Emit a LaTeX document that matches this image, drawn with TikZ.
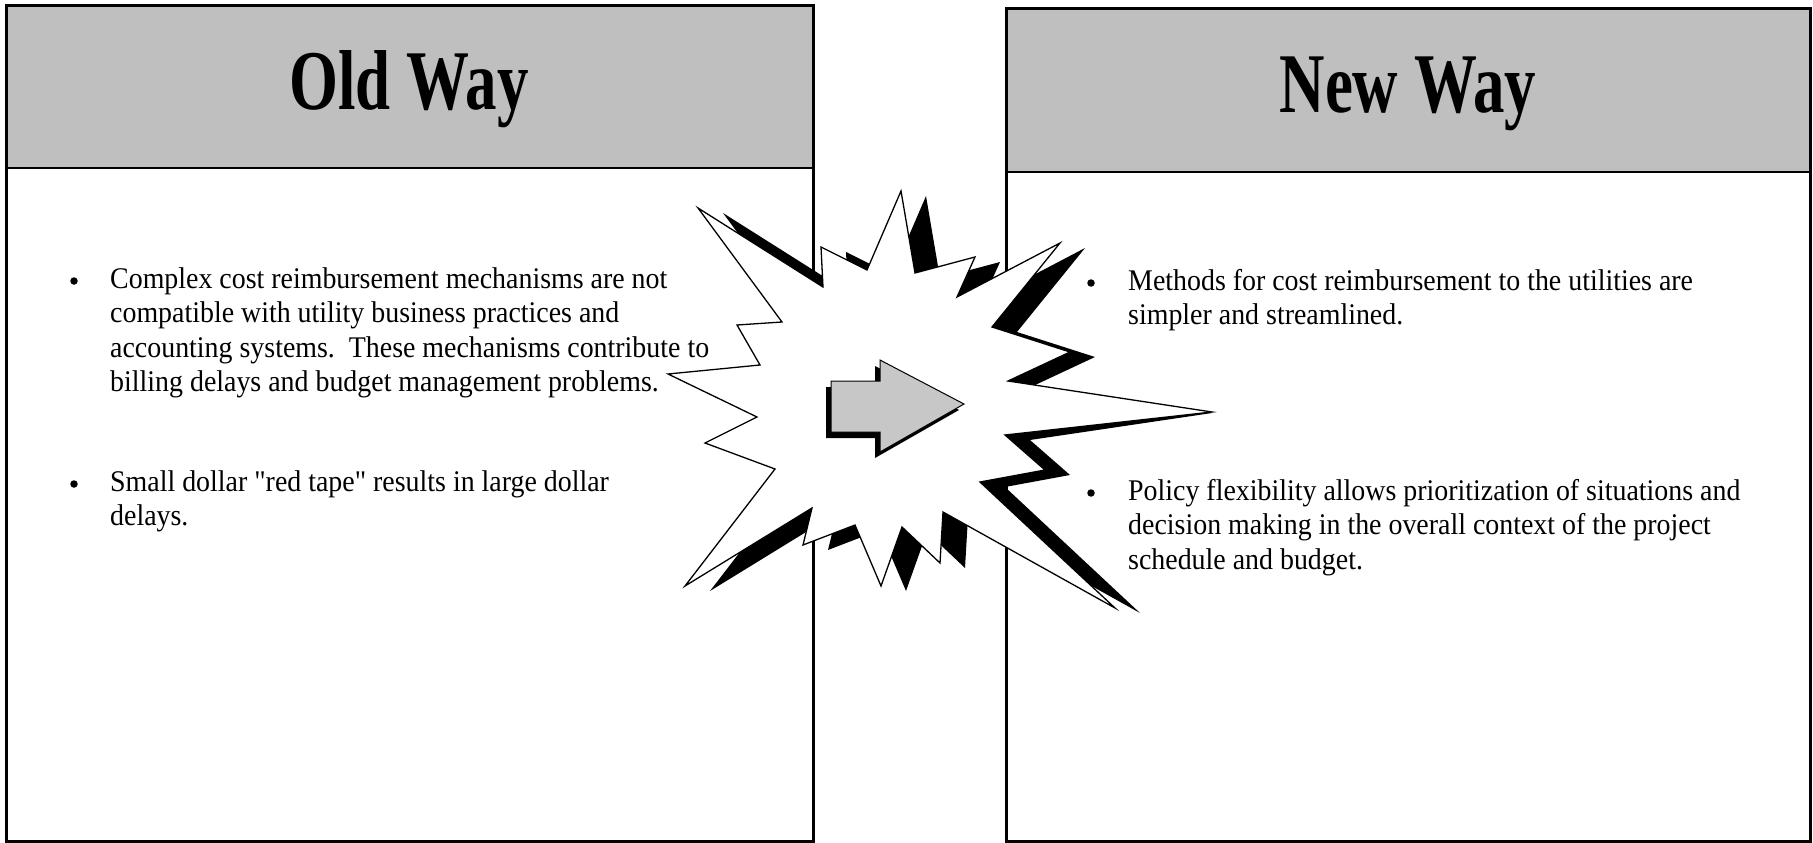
\documentclass[tikz,border=0pt]{standalone}
\usepackage{fontspec}
\setmainfont{Liberation Serif}
\newfontfamily\bodyfont{Liberation Serif}[FakeStretch=0.93]
\newfontfamily\titlefont{Liberation Serif}[FakeStretch=0.74]
\begin{document}
\begin{tikzpicture}[x=1pt,y=-1pt,
  hdr/.style={fill=black!25},
  frame/.style={line width=3pt},
  divider/.style={line width=2pt},
  bodytxt/.style={anchor=base west, inner sep=0pt, font=\bodyfont\fontsize{30}{36}\selectfont},
  bul/.style={circle, fill=black, inner sep=0pt, minimum size=7.5pt},
  title/.style={anchor=base, inner sep=0pt, font=\titlefont\bfseries\fontsize{85}{90}\selectfont},
  burstshadow/.style={fill=black},
  burst/.style={fill=white, draw=black, line width=1.3pt, line join=miter},
  arrowshadow/.style={fill=black},
  arrowbody/.style={fill=black!22, draw=black, line width=1pt}]
\useasboundingbox (0,0) rectangle (1813,843);
\fill[white] (0,0) rectangle (1813,843);

% left box
\fill[hdr] (6,6) rectangle (813,168);
\draw[frame] (6,6) rectangle (813,841);
\draw[divider] (6,168) -- (813,168);
% right box
\fill[hdr] (1006,9) rectangle (1810,172);
\draw[frame] (1006,9) rectangle (1810,841);
\draw[divider] (1006,172) -- (1810,172);

\node[title] (oldt) at (409,110) {Old Way};
\node[title] (newt) at (1408,112) {New Way};

% left text
\node[bul] (lb1) at (74,281) {};
\node[bodytxt] (l1) at (110,288) {Complex cost reimbursement mechanisms are not};
\node[bodytxt] (l2) at (110,322.5) {compatible with utility business practices and};
\node[bodytxt] (l3) at (110,357) {accounting systems.\ \ These mechanisms contribute to};
\node[bodytxt] (l4) at (110,391.5) {billing delays and budget management problems.};
\node[bul] (lb2) at (74,484) {};
\node[bodytxt] (l5) at (110,491) {Small dollar "red tape" results in large dollar};
\node[bodytxt] (l6) at (110,525.5) {delays.};

% right text
\node[bul] (rb1) at (1091,283) {};
\node[bodytxt] (r1) at (1128,290) {Methods for cost reimbursement to the utilities are};
\node[bodytxt] (r2) at (1128,324.5) {simpler and streamlined.};
\node[bul] (rb2) at (1091,493) {};
\node[bodytxt] (r3) at (1128,500) {Policy flexibility allows prioritization of situations and};
\node[bodytxt] (r4) at (1128,534.5) {decision making in the overall context of the project};
\node[bodytxt] (r5) at (1128,569) {schedule and budget.};

% starburst shadow
\fill[burstshadow] (723,213) -- (807,327) -- (762,330) -- (785,370) -- (693,379) -- (782,422) -- (730,448) -- (800,474) -- (710,591) -- (837,513) -- (828,550) -- (880,530) -- (906,591) -- (927,532) -- (965,568) -- (968,517) -- (1140,613) -- (1005,487) -- (1070,475) -- (1030,440) -- (1212,413) -- (1033,386) -- (1095,357) -- (1017,332) -- (1085,248) -- (982,302) -- (1000,262) -- (940,278) -- (926,196) -- (892,275) -- (846,252) -- (848,292) -- cycle;
% starburst
\draw[burst] (698,208) -- (782,322) -- (737,325) -- (760,365) -- (668,374) -- (757,417) -- (705,443) -- (775,469) -- (685,586) -- (812,508) -- (803,545) -- (855,525) -- (881,586) -- (902,527) -- (940,563) -- (943,512) -- (1115,608) -- (980,482) -- (1045,470) -- (1005,435) -- (1212,412) -- (1008,381) -- (1070,352) -- (992,327) -- (1060,243) -- (957,297) -- (975,257) -- (915,273) -- (901,191) -- (867,270) -- (821,247) -- (823,287) -- cycle;

% arrow
\fill[arrowshadow] (826,387) -- (875,387) -- (875,366) -- (959,410) -- (875,458) -- (875,438) -- (826,438) -- cycle;
\draw[arrowbody] (831,381) -- (880,381) -- (880,360) -- (964,404) -- (880,452) -- (880,432) -- (831,432) -- cycle;
\end{tikzpicture}
\end{document}
